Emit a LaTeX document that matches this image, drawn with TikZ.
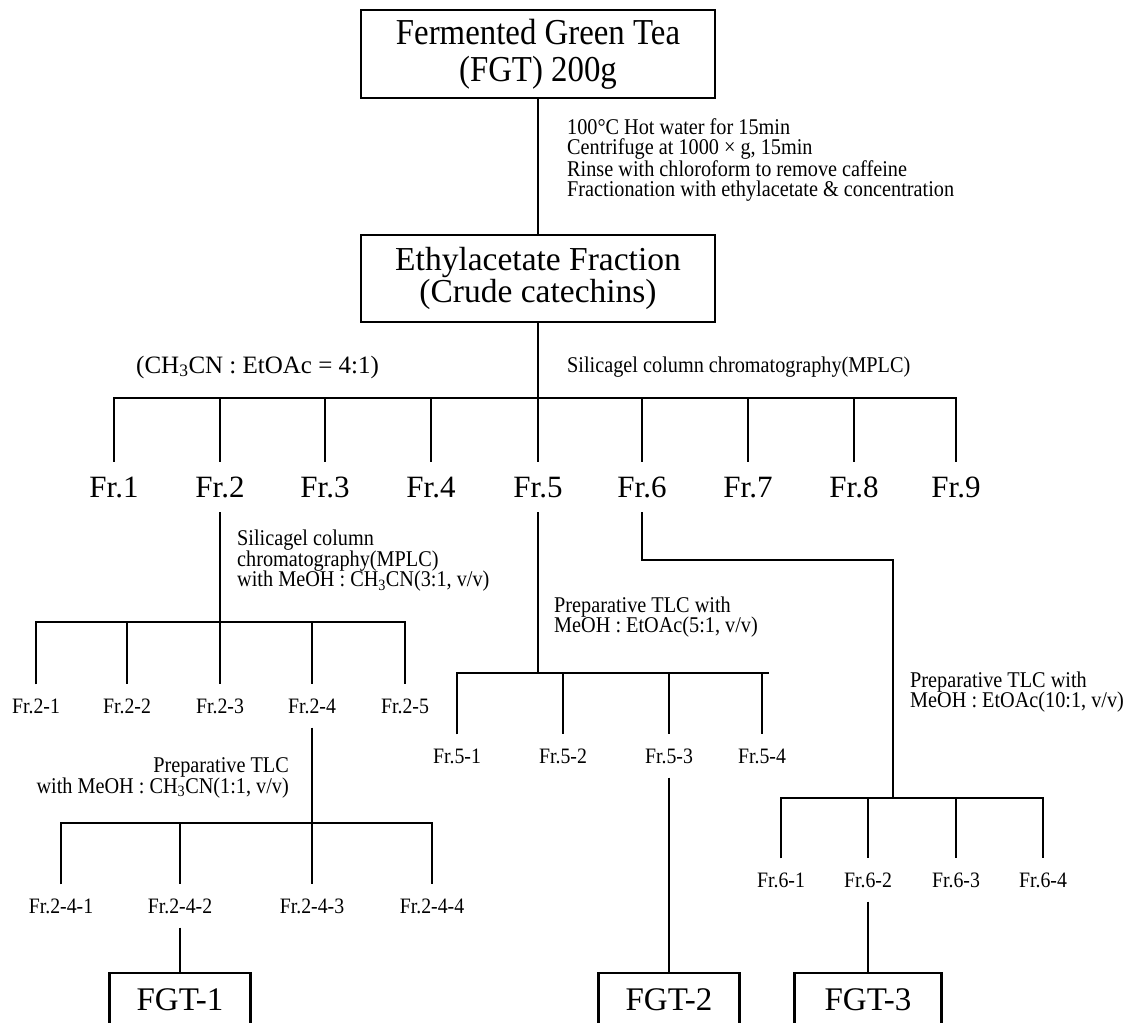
\documentclass[tikz,border=0pt]{standalone}
\usepackage{fontspec}
\setmainfont{Liberation Serif}
\newfontfamily\narrowrm[FakeStretch=0.9]{Liberation Serif}
\tikzset{
  stagebox/.style={draw, line width=2.4pt, inner sep=0pt, align=center},
  frac/.style={font=\fontsize{31}{31}\selectfont, inner xsep=0pt, inner ysep=14pt, text height=20.5pt, text depth=0pt},
  subfrac/.style={font=\narrowrm\fontsize{22}{22}\selectfont, inner xsep=0pt, inner ysep=13pt, text height=15pt, text depth=0pt},
  note/.style={font=\narrowrm\fontsize{22.5}{20.5}\selectfont, inner sep=0pt, align=left, anchor=west},
  product/.style={stagebox, minimum width=141, minimum height=54, font=\fontsize{33}{33}\selectfont}
}
\begin{document}
\begin{tikzpicture}[x=1pt, y=-1pt, line width=2.4pt]
    \useasboundingbox (0,0) rectangle (1133,1023);
    \clip (0,0) rectangle (1133,1023);
    \node [stagebox, minimum width=354, minimum height=88, font=\narrowrm\fontsize{36.5}{37}\selectfont] (fgt) at (538,54) {Fermented Green Tea\\(FGT) 200g};
    \node [stagebox, minimum width=354, minimum height=87, font=\fontsize{33.5}{32}\selectfont] (eaf) at (538,278.5) {Ethylacetate Fraction\\(Crude catechins)};
    \draw (fgt) -- (eaf);
    \node [note] (n1) at (566,160) {100°C Hot water for 15min\\Centrifuge at 1000 × g, 15min\\Rinse with chloroform to remove caffeine\\Fractionation with ethylacetate \& concentration};
    % first column
    \coordinate (bus1) at (538,398);
    \draw (eaf) -- (bus1);
    \node [anchor=west, inner sep=0pt, font=\fontsize{25}{25}\selectfont] (ratio) at (135,367) {(CH\textsubscript{3}CN : EtOAc = 4:1)};
    \node [note] (n2) at (566,367) {Silicagel column chromatography(MPLC)};
    \foreach \i/\x in {1/114,2/220,3/325,4/431,5/538,6/642,7/748,8/854,9/956}
        \node [frac] (fr\i) at (\x,487) {Fr.\i};
    \draw (fr1.north) -- (fr1.north |- bus1) -- (fr9.north |- bus1) -- (fr9.north);
    \foreach \i in {2,...,8}
        \draw (fr\i.north |- bus1) -- (fr\i.north);
    % Fr.2
    \coordinate (bus2) at (220,622);
    \draw (fr2.south) -- (bus2);
    \node [note] (n3) at (236,561) {Silicagel column\\chromatography(MPLC)\\with MeOH : CH\textsubscript{3}CN(3:1, v/v)};
    \foreach \i/\x in {1/36,2/127,3/220,4/312,5/405}
        \node [subfrac] (fr2\i) at (\x,706) {Fr.2-\i};
    \draw (fr21.north) -- (fr21.north |- bus2) -- (fr25.north |- bus2) -- (fr25.north);
    \foreach \i in {2,3,4}
        \draw (fr2\i.north |- bus2) -- (fr2\i.north);
    % Fr.2-4
    \coordinate (bus3) at (312,823);
    \draw (fr24.south) -- (bus3);
    \node [note, anchor=east, align=right] (n4) at (290,778) {Preparative TLC\\with MeOH : CH\textsubscript{3}CN(1:1, v/v)};
    \foreach \i/\x in {1/61,2/180,3/312,4/432}
        \node [subfrac] (fr24\i) at (\x,906) {Fr.2-4-\i};
    \draw (fr241.north) -- (fr241.north |- bus3) -- (fr244.north |- bus3) -- (fr244.north);
    \foreach \i in {2,3}
        \draw (fr24\i.north |- bus3) -- (fr24\i.north);
    \node [product] (fgt1) at (180,1000) {FGT-1};
    \draw (fr242.south) -- (fgt1);
    % Fr.5
    \coordinate (bus4) at (538,673);
    \draw (fr5.south) -- (bus4);
    \node [note] (n5) at (553,617) {Preparative TLC with\\MeOH : EtOAc(5:1, v/v)};
    \foreach \i/\x in {1/457,2/563,3/669,4/762}
        \node [subfrac] (fr5\i) at (\x,756) {Fr.5-\i};
    \draw (fr51.north) -- (fr51.north |- bus4) -- ([xshift=7pt]fr54.north |- bus4);
    \foreach \i in {2,3,4}
        \draw (fr5\i.north |- bus4) -- (fr5\i.north);
    \node [product] (fgt2) at (669,1000) {FGT-2};
    \draw (fr53.south) -- (fgt2);
    % Fr.6
    \coordinate (bend6) at (893,560);
    \coordinate (bus5) at (893,798);
    \draw (fr6.south) |- (bend6) -- (bus5);
    \node [note] (n6) at (909,692) {Preparative TLC with\\MeOH : EtOAc(10:1, v/v)};
    \foreach \i/\x in {1/781,2/868,3/956,4/1043}
        \node [subfrac] (fr6\i) at (\x,880) {Fr.6-\i};
    \draw (fr61.north) -- (fr61.north |- bus5) -- (fr64.north |- bus5) -- (fr64.north);
    \foreach \i in {2,3}
        \draw (fr6\i.north |- bus5) -- (fr6\i.north);
    \node [product, minimum width=147] (fgt3) at (868,1000) {FGT-3};
    \draw (fr62.south) -- (fgt3);
\end{tikzpicture}
\end{document}
